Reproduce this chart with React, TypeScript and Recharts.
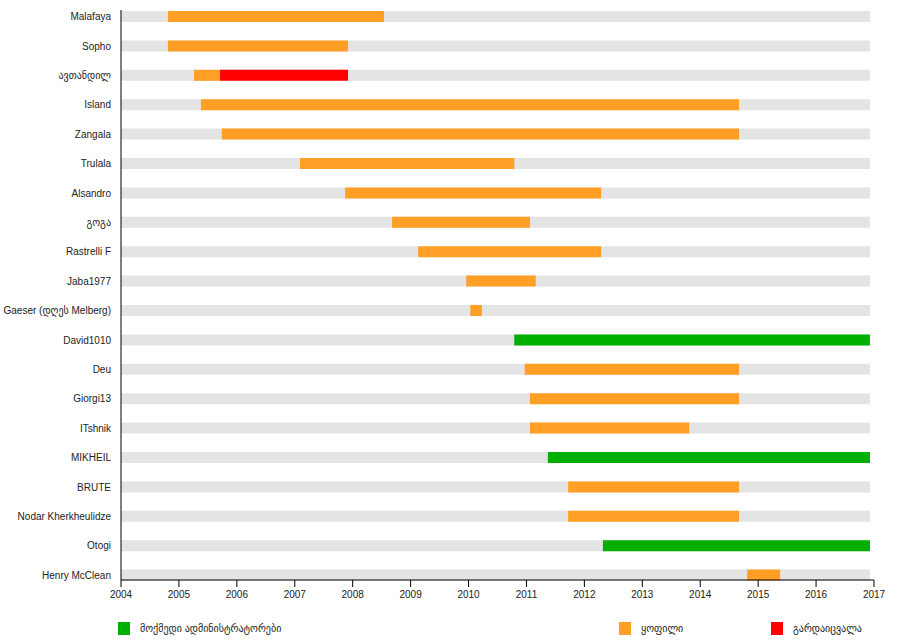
import { BarChart, Bar, XAxis, YAxis, Legend } from "recharts"

// axis range and the "today" cut-off of the timeline
const axisStart = 2004
const axisEnd = 2017
const dataEnd = 2016.93
const years = [2004, 2005, 2006, 2007, 2008, 2009, 2010, 2011, 2012, 2013, 2014, 2015, 2016, 2017]

const users = [
  "Malafaya",
  "Sopho",
  "ავთანდილ",
  "Island",
  "Zangala",
  "Trulala",
  "Alsandro",
  "გოგა",
  "Rastrelli F",
  "Jaba1977",
  "Gaeser (დღეს Melberg)",
  "David1010",
  "Deu",
  "Giorgi13",
  "ITshnik",
  "MIKHEIL",
  "BRUTE",
  "Nodar Kherkheulidze",
  "Otogi",
  "Henry McClean"
]

// former admins (orange)
const formerFrom = [2004.81, 2004.81, 2005.26, 2005.38, 2005.74, 2007.09, 2007.87, 2008.68, 2009.13, 2009.96, 2010.03, null, 2010.97, 2011.06, 2011.06, null, 2011.72, 2011.72, null, 2014.81]
const formerTo = [2008.54, 2007.92, 2005.71, 2014.67, 2014.67, 2010.79, 2012.29, 2011.06, 2012.29, 2011.16, 2010.23, null, 2014.67, 2014.67, 2013.81, null, 2014.67, 2014.67, null, 2015.38]

// deceased (red)
const diedFrom = [null, null, 2005.71, null, null, null, null, null, null, null, null, null, null, null, null, null, null, null, null, null]
const diedTo = [null, null, 2007.92, null, null, null, null, null, null, null, null, null, null, null, null, null, null, null, null, null]

// active admins (green), running until today
const activeFrom = [null, null, null, null, null, null, null, null, null, null, null, 2010.79, null, null, null, 2011.37, null, null, 2012.32, null]

const legendItems = [
  { label: "მოქმედი ადმინისტრატორები", color: "#00b000", left: 118 },
  { label: "ყოფილი", color: "#ff9f25", left: 619 },
  { label: "გარდაიცვალა", color: "#ff0000", left: 771 }
]

const range = (a: number | null, b: number | null) => (a == null || b == null ? null : [a, b])

const chartData = users.map((name, i) => ({
  name,
  period: [axisStart, dataEnd],
  former: range(formerFrom[i], formerTo[i]),
  died: range(diedFrom[i], diedTo[i]),
  active: range(activeFrom[i], activeFrom[i] == null ? null : dataEnd)
}))

const font = "'Liberation Sans', Arial, 'DejaVu Sans', sans-serif"

// plain tick so long names stay on one line
function UserTick(props: any) {
  const { x, y, payload } = props
  return (
    <text x={x} y={y} dy="0.355em" textAnchor="end" fill="#222" fontSize={10} fontFamily={font}>
      {payload.value}
    </text>
  )
}

function renderLegend() {
  return (
    <div style={{ position: "relative", height: 30, width: 900 }}>
      {legendItems.map(item => (
        <div
          key={item.label}
          style={{
            position: "absolute",
            left: item.left,
            top: 12,
            display: "flex",
            alignItems: "center",
            fontFamily: font,
            fontSize: 10,
            color: "#222"
          }}
        >
          <span style={{ width: 12, height: 13, background: item.color, display: "inline-block" }} />
          <span style={{ marginLeft: 10 }}>{item.label}</span>
        </div>
      ))}
    </div>
  )
}

export default function App() {
  return (
    <div style={{ position: "absolute", left: 0, top: 0, background: "white" }}>
      <BarChart
        width={900}
        height={640}
        layout="vertical"
        data={chartData}
        margin={{ top: 10, right: 26, bottom: 0, left: 0 }}
        barSize={11}
        barGap={-11}
      >
        <XAxis
          type="number"
          domain={[axisStart, axisEnd]}
          ticks={years}
          interval={0}
          height={30}
          tickSize={7}
          tickMargin={4}
          stroke="#000"
          tick={{ fill: "#222", fontSize: 10, fontFamily: font }}
        />
        <YAxis
          type="category"
          dataKey="name"
          width={121}
          padding={{ top: -8, bottom: -10 }}
          tickLine={false}
          tickSize={0}
          tickMargin={10}
          interval={0}
          stroke="#000"
          tick={<UserTick />}
        />
        <Legend verticalAlign="bottom" height={30} content={renderLegend} wrapperStyle={{ left: 0, width: 900 }} />
        <Bar dataKey="period" fill="#e4e4e4" isAnimationActive={false} />
        <Bar dataKey="former" fill="#ff9f25" isAnimationActive={false} />
        <Bar dataKey="died" fill="#ff0000" isAnimationActive={false} />
        <Bar dataKey="active" fill="#00b000" isAnimationActive={false} />
      </BarChart>
    </div>
  )
}
